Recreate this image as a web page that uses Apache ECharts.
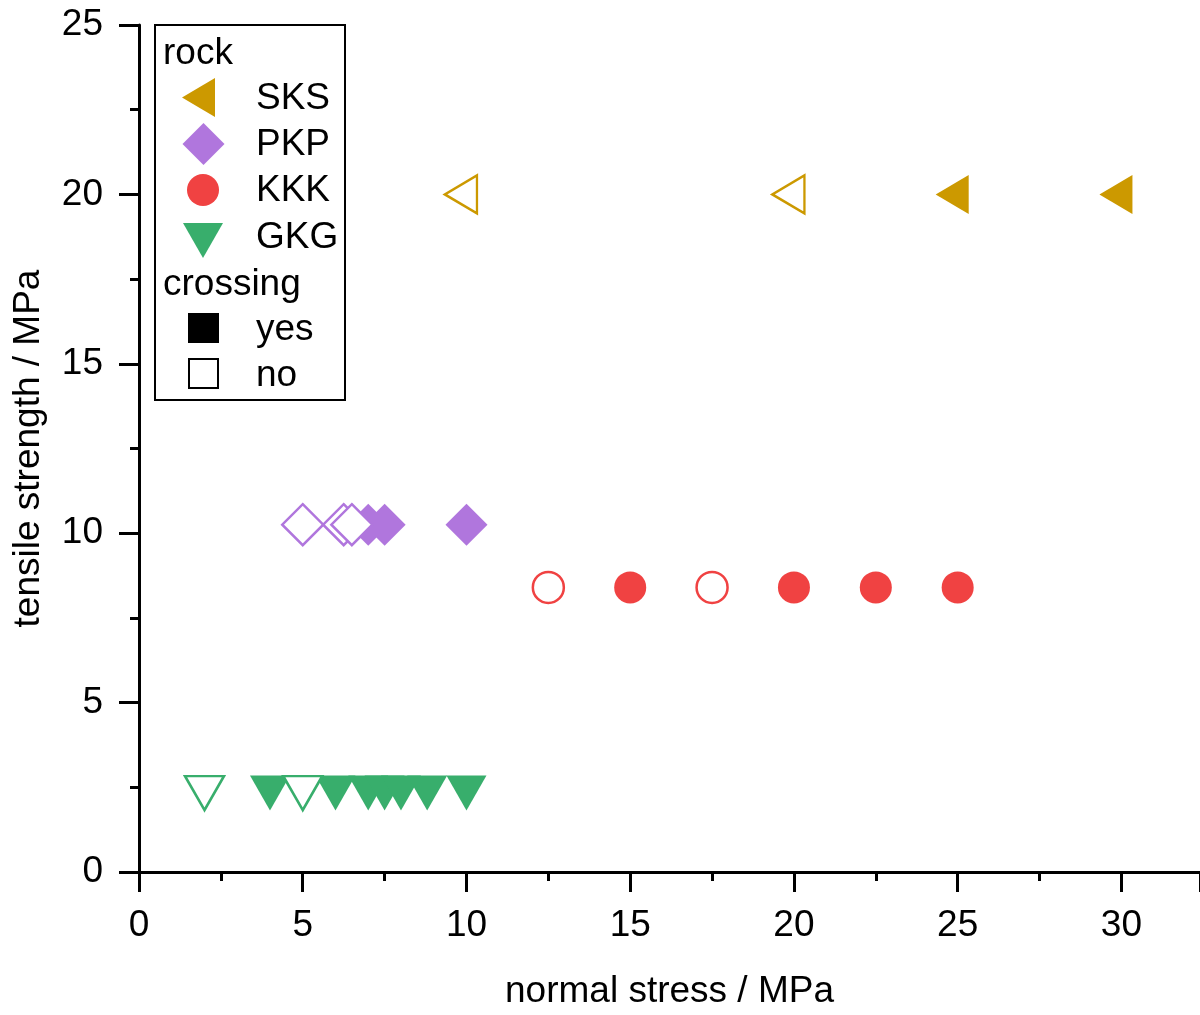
<!DOCTYPE html>
<html>
<head>
<meta charset="utf-8">
<script src="https://cdn.jsdelivr.net/npm/echarts@6/dist/echarts.min.js"></script>
<style>
html,body{margin:0;padding:0;background:#fff;}
#chart{width:1200px;height:1015px;}
</style>
</head>
<body>
<div id="chart"></div>
<script>
// ---- data (x = normal stress / MPa, y = tensile strength / MPa) ----
const sksYes = [[25, 20], [30, 20]];
const sksNo  = [[10, 20], [20, 20]];
const pkpYes = [[7, 10.25], [7.5, 10.25], [10, 10.25]];
const pkpNo  = [[5, 10.25], [6.25, 10.25], [6.5, 10.25]];
const kkkYes = [[15, 8.4], [20, 8.4], [22.5, 8.4], [25, 8.4]];
const kkkNo  = [[12.5, 8.4], [17.5, 8.4]];
const gkgYes = [[4, 2.5], [6, 2.5], [7, 2.5], [7.5, 2.5], [8, 2.5], [8.8, 2.5], [10, 2.5]];
const gkgNo  = [[2, 2.5], [5, 2.5]];

const rockNames = ['SKS', 'PKP', 'KKK', 'GKG'];
const crossingNames = ['yes', 'no'];
const colors = { SKS: '#CC9900', PKP: '#B076DD', KKK: '#F04242', GKG: '#38AE6C' };

const FONT = '"Liberation Sans", Arial, sans-serif';
const FS = 37;

function filled(name, data, sym, size, rot, off) {
  return {
    type: 'scatter', name: name, data: data, symbol: sym, symbolSize: size,
    symbolRotate: rot, symbolOffset: off, z: 2,
    itemStyle: { color: colors[name], opacity: 1 }
  };
}
function open(name, data, sym, size, rot, off) {
  return {
    type: 'scatter', name: name, data: data, symbol: sym, symbolSize: size,
    symbolRotate: rot, symbolOffset: off, z: 3,
    itemStyle: { color: '#ffffff', borderColor: colors[name], borderWidth: 2.5, opacity: 1 }
  };
}

const series = [
  filled('SKS', sksYes, 'triangle', [39, 33], 90, [-5.5, 0]),
  open('SKS', sksNo, 'triangle', [38, 32], 90, [-5.5, 0]),
  filled('PKP', pkpYes, 'diamond', [42, 42], 0, [0, 0]),
  open('PKP', pkpNo, 'diamond', [41, 41], 0, [0, 0]),
  filled('KKK', kkkYes, 'circle', 32, 0, [0, 0]),
  open('KKK', kkkNo, 'circle', 31, 0, [0, 0]),
  filled('GKG', gkgYes, 'triangle', [40, 35], 180, [0, 5.8]),
  open('GKG', gkgNo, 'triangle', [39, 34], 180, [0, 5.8])
];

// ---- legend (drawn as graphic) ----
const lx = 155, ly = 25;
const legendEls = [
  { type: 'rect', shape: { x: lx, y: ly, width: 190, height: 375 },
    style: { fill: '#fff', stroke: '#000', lineWidth: 2 }, z: 10 },
  { type: 'text', x: 163, y: 54, style: { text: 'rock', font: FS + 'px ' + FONT, fill: '#000', textVerticalAlign: 'middle' }, z: 11 },
  { type: 'polygon', shape: { points: [[215, 78], [215, 117], [182, 97.5]] }, style: { fill: colors.SKS }, z: 11 },
  { type: 'polygon', shape: { points: [[203.5, 123], [224.5, 144], [203.5, 165], [182.5, 144]] }, style: { fill: colors.PKP }, z: 11 },
  { type: 'circle', shape: { cx: 203, cy: 190, r: 16 }, style: { fill: colors.KKK }, z: 11 },
  { type: 'polygon', shape: { points: [[183, 223], [223, 223], [203, 258]] }, style: { fill: colors.GKG }, z: 11 },
  { type: 'text', x: 163, y: 285, style: { text: 'crossing', font: FS + 'px ' + FONT, fill: '#000', textVerticalAlign: 'middle' }, z: 11 },
  { type: 'rect', shape: { x: 188, y: 313, width: 31, height: 30 }, style: { fill: '#000' }, z: 11 },
  { type: 'rect', shape: { x: 189, y: 359, width: 29, height: 29 }, style: { fill: '#fff', stroke: '#000', lineWidth: 2 }, z: 11 }
];
const rockY = [99, 145, 191, 238];
rockNames.forEach(function (n, i) {
  legendEls.push({ type: 'text', x: 256, y: rockY[i], style: { text: n, font: FS + 'px ' + FONT, fill: '#000', textVerticalAlign: 'middle' }, z: 11 });
});
const crossY = [330, 376];
crossingNames.forEach(function (n, i) {
  legendEls.push({ type: 'text', x: 256, y: crossY[i], style: { text: n, font: FS + 'px ' + FONT, fill: '#000', textVerticalAlign: 'middle' }, z: 11 });
});

const axisCommon = {
  axisLine: { show: true, onZero: false, lineStyle: { color: '#000', width: 3 } },
  axisTick: { show: true, inside: false, length: 20, lineStyle: { color: '#000', width: 3 } },
  minorTick: { show: true, splitNumber: 2, length: 9, lineStyle: { color: '#000', width: 3 } },
  splitLine: { show: false },
  minorSplitLine: { show: false },
  nameLocation: 'middle',
  nameTextStyle: { fontFamily: FONT, fontSize: FS, color: '#000' }
};

const chart = echarts.init(document.getElementById('chart'), null, { renderer: 'canvas' });
chart.setOption({
  animation: false,
  backgroundColor: '#fff',
  grid: { left: 139, right: 0, top: 25, bottom: 138, containLabel: false },
  xAxis: Object.assign({}, axisCommon, {
    type: 'value', min: 0, max: 32.4, interval: 5,
    name: 'normal stress / MPa', nameGap: 101,
    axisLabel: { margin: 35, fontFamily: FONT, fontSize: FS, color: '#000', showMaxLabel: false }
  }),
  yAxis: Object.assign({}, axisCommon, {
    type: 'value', min: 0, max: 25, interval: 5,
    name: 'tensile strength / MPa', nameGap: 92,
    axisLabel: { margin: 36, fontFamily: FONT, fontSize: FS, color: '#000' }
  }),
  series: series,
  graphic: legendEls
});
</script>
</body>
</html>
